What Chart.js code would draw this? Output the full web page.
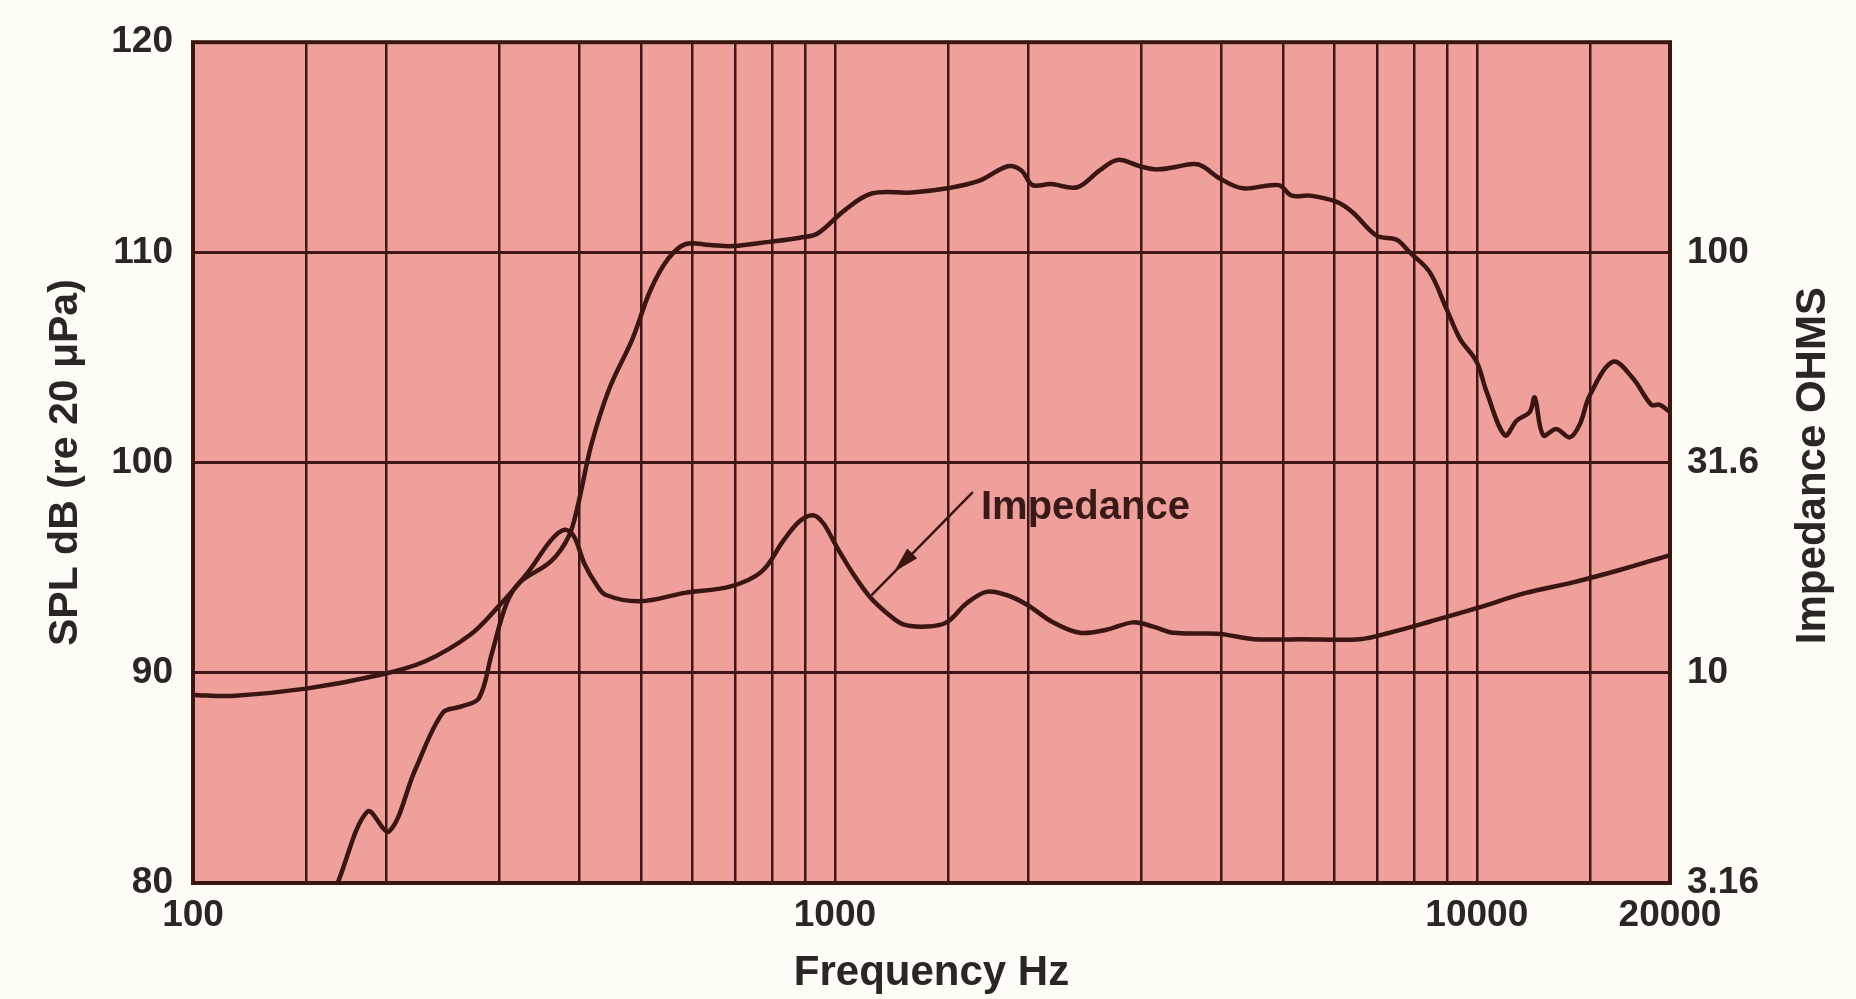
<!DOCTYPE html>
<html>
<head>
<meta charset="utf-8">
<script src="https://cdn.jsdelivr.net/npm/chart.js@4.4.1/dist/chart.umd.min.js"></script>
<style>
  html, body { margin: 0; padding: 0; background: #fdfdf6; }
  #contenedor { width: 1856px; height: 999px; position: relative; }
</style>
</head>
<body>
<div id="contenedor"><canvas id="grafico"></canvas></div>
<script>
// respuesta en frecuencia (SPL, dB)
const splFreq = [168, 187, 202, 222, 245, 262, 279, 292, 308, 323, 361, 385, 398, 417, 445, 484, 516, 550, 586, 638,
  695, 789, 882, 940, 1035, 1141, 1318, 1498, 1676, 1860, 1952, 2032, 2168, 2386, 2585, 2757, 2986, 3186, 3621, 3739,
  3985, 4320, 4910, 5150, 5495, 6050, 6410, 6980, 7500, 7865, 8450, 8975, 9410, 9995, 10350, 11060, 11540, 12090, 12310, 12690,
  13300, 13960, 14460, 15000, 16310, 17520, 18710, 19280, 20000];
const splDb = [80.0, 83.4, 82.45, 85.4, 88.1, 88.4, 88.8, 90.9, 93.3, 94.3, 95.3, 96.5, 98.0, 100.8, 103.5, 105.9, 108.2, 109.7, 110.4, 110.35,
  110.3, 110.5, 110.7, 110.9, 112.0, 112.8, 112.85, 113.05, 113.4, 114.1, 113.9, 113.2, 113.25, 113.1, 113.9, 114.4, 114.1, 113.95, 114.2, 114.1,
  113.5, 113.05, 113.2, 112.7, 112.7, 112.4, 111.9, 110.8, 110.6, 110.0, 109.05, 107.3, 105.9, 104.8, 103.4, 101.3, 102.0, 102.4, 103.1, 101.3,
  101.6, 101.2, 101.8, 103.2, 104.8, 104.0, 102.75, 102.75, 102.4];

// impedancia (ohms)
const impFreq = [100, 115, 150, 196, 230, 270, 298, 333, 361, 379, 392, 407, 425, 440, 497, 584, 686, 768, 832, 880,
  925, 960, 1006, 1068, 1134, 1204, 1278, 1390, 1493, 1603, 1722, 1851, 1989, 2188, 2407, 2650, 2915, 3132, 3365, 3980,
  4493, 5320, 6580, 7315, 8490, 10060, 11920, 14130, 16750, 20000];
const impOhms = [8.86, 8.81, 9.17, 9.89, 10.65, 12.30, 14.29, 17.38, 20.65, 21.88, 21.13, 18.20, 16.22, 15.31, 14.79, 15.49, 16.03, 17.38, 20.65, 22.91,
  23.71, 22.65, 19.95, 17.18, 15.14, 13.88, 13.03, 12.88, 13.18, 14.62, 15.58, 15.31, 14.54, 13.18, 12.45, 12.66, 13.18, 12.88, 12.45, 12.37,
  12.02, 12.02, 12.02, 12.45, 13.26, 14.29, 15.49, 16.41, 17.58, 19.05];

// ejes
const xGridTicks = [100, 150, 200, 300, 400, 500, 600, 700, 800, 900, 1000, 1500, 2000, 3000, 4000, 5000, 6000, 7000, 8000, 9000, 10000, 15000, 20000];
const xTickLabels = [100, 1000, 10000, 20000];
const splTicks = [80, 90, 100, 110, 120];
const impTickValues = [3.162, 10, 31.62, 100];
const impTickLabels = ['3.16', '10', '31.6', '100'];

// nota "Impedance" con flecha (en frecuencia / dB)
const notaTexto = 'Impedance';
const notaPos = { freq: 1689, db: 97.3 };
const flechaDesde = { freq: 1640, db: 98.6 };
const flechaPunta = { freq: 1236, db: 94.8 };
const flechaHasta = { freq: 1141, db: 93.7 };

const FUENTE = "'Liberation Sans', Arial, Helvetica, sans-serif";
const TINTA = '#2a2624';
const LINEA = '#3a1512';
const REJILLA = '#3e1616';

const fondo = {
  id: 'fondo',
  beforeDraw(chart) {
    const { ctx, chartArea: a } = chart;
    ctx.save();
    ctx.fillStyle = '#fdfdf6';
    ctx.fillRect(0, 0, chart.width, chart.height);
    ctx.fillStyle = '#efa09b';
    ctx.fillRect(a.left, a.top, a.right - a.left, a.bottom - a.top);
    ctx.restore();
  },
  afterDatasetsDraw(chart) {
    const { ctx, chartArea: a, scales } = chart;
    const px = p => [scales.x.getPixelForValue(p.freq), scales.y.getPixelForValue(p.db)];
    ctx.save();
    ctx.strokeStyle = LINEA;
    ctx.lineWidth = 4;
    ctx.strokeRect(a.left, a.top, a.right - a.left, a.bottom - a.top);

    // texto
    const [tx, ty] = px(notaPos);
    ctx.fillStyle = '#3a1a18';
    ctx.font = 'bold 40px ' + FUENTE;
    ctx.textAlign = 'left';
    ctx.textBaseline = 'alphabetic';
    ctx.fillText(notaTexto, tx, ty);

    // flecha
    const [x0, y0] = px(flechaDesde);
    const [x1, y1] = px(flechaHasta);
    const [xp, yp] = px(flechaPunta);
    ctx.lineWidth = 2.5;
    ctx.beginPath();
    ctx.moveTo(x0, y0);
    ctx.lineTo(x1, y1);
    ctx.stroke();
    const dx = x1 - x0, dy = y1 - y0, len = Math.hypot(dx, dy);
    const ux = dx / len, uy = dy / len;
    ctx.fillStyle = LINEA;
    ctx.beginPath();
    ctx.moveTo(xp, yp);
    ctx.lineTo(xp - ux * 26 - uy * 7, yp - uy * 26 + ux * 7);
    ctx.lineTo(xp - ux * 26 + uy * 7, yp - uy * 26 - ux * 7);
    ctx.closePath();
    ctx.fill();
    ctx.restore();
  },
  afterDraw(chart) {
    const { ctx, chartArea: a } = chart;
    ctx.save();
    ctx.translate(chart.width - 43, (a.top + a.bottom) / 2 + 3);
    ctx.rotate(-Math.PI / 2);
    ctx.fillStyle = TINTA;
    ctx.font = 'bold 42px ' + FUENTE;
    ctx.textAlign = 'center';
    ctx.textBaseline = 'middle';
    ctx.fillText('Impedance OHMS', 0, 0);
    ctx.restore();
  }
};

function cargarGrafico() {
  const ctx = document.getElementById('grafico');
  const fuenteTicks = { family: FUENTE, size: 37, weight: 'bold' };

  new Chart(ctx, {
    type: 'line',
    data: {
      datasets: [
        {
          label: 'SPL',
          data: splFreq.map((f, i) => ({ x: f, y: splDb[i] })),
          yAxisID: 'y',
          borderColor: LINEA,
          borderWidth: 4.5,
          pointRadius: 0,
          tension: 0.35,
          fill: false
        },
        {
          label: 'Impedance',
          data: impFreq.map((f, i) => ({ x: f, y: impOhms[i] })),
          yAxisID: 'yImp',
          borderColor: LINEA,
          borderWidth: 4.5,
          pointRadius: 0,
          tension: 0.35,
          fill: false
        }
      ]
    },
    options: {
      responsive: true,
      maintainAspectRatio: false,
      animation: false,
      devicePixelRatio: 1,
      layout: { padding: { top: 33, left: 0, right: 0, bottom: 0 } },
      plugins: {
        legend: { display: false },
        tooltip: { enabled: false }
      },
      scales: {
        x: {
          type: 'logarithmic',
          min: 100,
          max: 20000,
          afterBuildTicks: s => { s.ticks = xGridTicks.map(v => ({ value: v })); },
          afterFit: s => { s.height = 116; },
          grid: { color: REJILLA, lineWidth: 2.5, drawTicks: false },
          border: { display: false },
          ticks: {
            autoSkip: false,
            maxRotation: 0,
            padding: 11,
            color: TINTA,
            font: fuenteTicks,
            callback: v => xTickLabels.includes(v) ? String(v) : ''
          },
          title: {
            display: true,
            text: 'Frequency Hz',
            color: TINTA,
            font: { family: FUENTE, size: 42, weight: 'bold' },
            padding: { top: 0, bottom: 0 }
          }
        },
        y: {
          type: 'linear',
          position: 'left',
          min: 80,
          max: 120,
          afterBuildTicks: s => { s.ticks = splTicks.map(v => ({ value: v })); },
          afterFit: s => { s.width = 193; },
          grid: { color: REJILLA, lineWidth: 3, drawTicks: false },
          border: { display: false },
          ticks: { padding: 20, color: TINTA, font: fuenteTicks },
          title: {
            display: true,
            text: 'SPL dB (re 20 \u03bcPa)',
            color: TINTA,
            font: { family: FUENTE, size: 41, weight: 'bold' },
            padding: { top: 41, bottom: 0 }
          }
        },
        yImp: {
          type: 'logarithmic',
          position: 'right',
          min: 3.162,
          max: 316.2,
          afterBuildTicks: s => { s.ticks = impTickValues.map(v => ({ value: v })); },
          afterFit: s => { s.width = 186; },
          grid: { drawOnChartArea: false, drawTicks: false },
          border: { display: false },
          ticks: {
            padding: 17,
            color: TINTA,
            font: fuenteTicks,
            callback: v => {
              const i = impTickValues.indexOf(v);
              return i >= 0 ? impTickLabels[i] : '';
            }
          }
        }
      }
    },
    plugins: [fondo]
  });
}

cargarGrafico();
</script>
</body>
</html>
